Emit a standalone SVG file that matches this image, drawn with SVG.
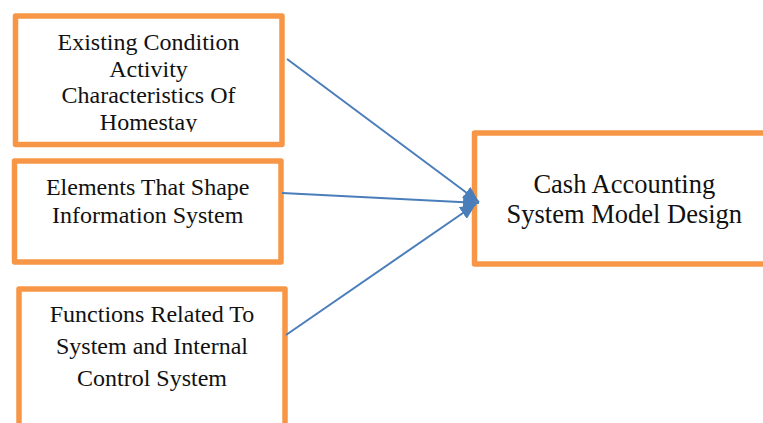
<svg xmlns="http://www.w3.org/2000/svg" width="763" height="423" viewBox="0 0 763 423">
<style>
.box{fill:#fff;stroke:#F79646;stroke-width:5.5;stroke-linejoin:round}
text{font-family:'Liberation Serif','DejaVu Serif',serif;font-size:24px;fill:#111;text-anchor:middle}
.big{font-size:26.5px}
.c{stroke:#4A7EBB;stroke-width:2;fill:none}
</style>
<defs>
<marker id="ah" markerUnits="userSpaceOnUse" markerWidth="18" markerHeight="14" refX="16" refY="7" orient="auto">
<path d="M0,0 L16,7 L0,14 Z" fill="#4A7EBB"/>
</marker>
<clipPath id="c1"><rect x="18" y="18" width="262" height="114"/></clipPath>
</defs>
<rect width="763" height="423" fill="#fff"/>
<g id="node1">
<rect class="box" x="15.5" y="16" width="266.5" height="128.5"/>
<g clip-path="url(#c1)" font-family="Liberation Serif, serif">
<text x="148.5" y="50">Existing Condition</text>
<text x="148.5" y="76.7">Activity</text>
<text x="148.5" y="103.4">Characteristics Of</text>
<text x="148.5" y="130">Homestay</text>
</g>
</g>
<g id="node2">
<rect class="box" x="14.5" y="161" width="266.5" height="101"/>
<text x="147.7" y="195">Elements That Shape</text>
<text x="147.7" y="222.5">Information System</text>
</g>
<g id="node3">
<rect class="box" x="19" y="289" width="266" height="160"/>
<text x="152" y="322">Functions Related To</text>
<text x="152" y="354">System and Internal</text>
<text x="152" y="386">Control System</text>
</g>
<g id="node4">
<rect class="box" x="474.5" y="133" width="310" height="131"/>
<text class="big" x="624.3" y="192.7">Cash Accounting</text>
<text class="big" x="624.3" y="223.3">System Model Design</text>
</g>
<g id="connectors">
<line class="c" x1="287" y1="59" x2="479" y2="202" marker-end="url(#ah)"/>
<line class="c" x1="282" y1="193" x2="479" y2="203" marker-end="url(#ah)"/>
<line class="c" x1="286" y1="335" x2="476" y2="204" marker-end="url(#ah)"/>
</g>
</svg>
